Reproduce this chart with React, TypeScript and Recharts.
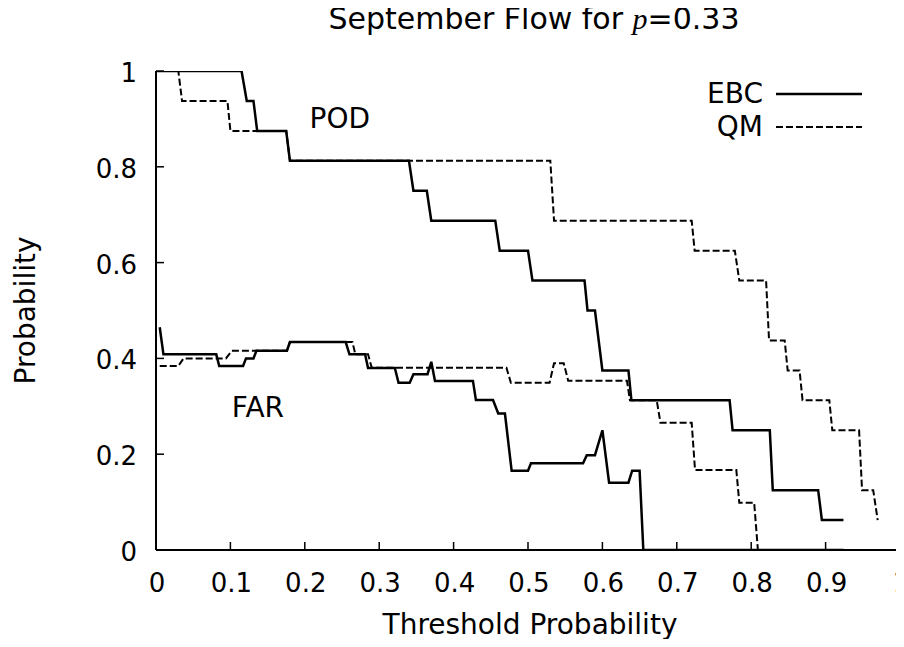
import React from 'react';
import { LineChart, Line, XAxis, YAxis, ReferenceDot } from 'recharts';

/**
 * September Flow chart
 * POD / FAR step curves for EBC (solid) and QM (dashed) against threshold probability
 */

const FONT = '"DejaVu Sans", Verdana, sans-serif';
const TICK_FONT = 26;
const LABEL_FONT = 28;

const xTicks = [0, 0.1, 0.2, 0.3, 0.4, 0.5, 0.6, 0.7, 0.8, 0.9, 1];
const yTicks = [0, 0.2, 0.4, 0.6, 0.8, 1];

// [threshold, probability] vertices
const ebcPod: [number, number][] = [
  [0, 1], [0.115, 1], [0.122, 0.9375], [0.131, 0.9375], [0.136, 0.875], [0.175, 0.875],
  [0.18, 0.8125], [0.34, 0.8125], [0.346, 0.75], [0.364, 0.75], [0.37, 0.6875],
  [0.456, 0.6875], [0.462, 0.625], [0.5, 0.625], [0.506, 0.5625], [0.576, 0.5625],
  [0.58, 0.5], [0.59, 0.5], [0.6, 0.375], [0.635, 0.375], [0.639, 0.3125],
  [0.771, 0.3125], [0.775, 0.25], [0.825, 0.25], [0.829, 0.125], [0.89, 0.125],
  [0.895, 0.0625], [0.924, 0.0625],
];

const qmPod: [number, number][] = [
  [0, 1], [0.03, 1], [0.035, 0.9375], [0.096, 0.9375], [0.1, 0.875], [0.175, 0.875],
  [0.18, 0.8125], [0.53, 0.8125], [0.535, 0.6875], [0.72, 0.6875], [0.724, 0.625],
  [0.778, 0.625], [0.784, 0.5625], [0.82, 0.5625], [0.824, 0.4375], [0.845, 0.4375],
  [0.849, 0.375], [0.865, 0.375], [0.869, 0.3125], [0.905, 0.3125], [0.909, 0.25],
  [0.945, 0.25], [0.949, 0.125], [0.964, 0.125], [0.97, 0.0625],
];

const ebcFar: [number, number][] = [
  [0.005, 0.465], [0.01, 0.4085], [0.081, 0.4085], [0.085, 0.384], [0.117, 0.384],
  [0.121, 0.4], [0.131, 0.4], [0.135, 0.416], [0.176, 0.416], [0.18, 0.434],
  [0.255, 0.434], [0.26, 0.4085], [0.281, 0.4085], [0.285, 0.38], [0.321, 0.38],
  [0.326, 0.349], [0.341, 0.349], [0.346, 0.367], [0.365, 0.367], [0.37, 0.393],
  [0.375, 0.353], [0.426, 0.353], [0.43, 0.313], [0.453, 0.313], [0.46, 0.285],
  [0.469, 0.285], [0.478, 0.1656], [0.5, 0.1656], [0.504, 0.181], [0.574, 0.181],
  [0.579, 0.198], [0.59, 0.198], [0.6, 0.25], [0.609, 0.1405], [0.635, 0.1405],
  [0.64, 0.1656], [0.65, 0.1656], [0.655, 0], [0.924, 0],
];

const qmFar: [number, number][] = [
  [0.005, 0.384], [0.03, 0.384], [0.037, 0.4], [0.094, 0.4], [0.102, 0.416],
  [0.176, 0.416], [0.18, 0.434], [0.264, 0.434], [0.268, 0.4085], [0.285, 0.4085],
  [0.29, 0.3806], [0.471, 0.3806], [0.477, 0.349], [0.529, 0.349], [0.535, 0.39],
  [0.548, 0.39], [0.554, 0.3535], [0.633, 0.3535], [0.637, 0.3125], [0.673, 0.3125],
  [0.678, 0.2658], [0.72, 0.2658], [0.7245, 0.167], [0.78, 0.167], [0.784, 0.0988],
  [0.804, 0.0988], [0.809, 0], [0.966, 0],
];

const legendItems = [
  { name: 'EBC', dash: undefined as string | undefined },
  { name: 'QM', dash: '7 3' },
];

const toRows = (pts: [number, number][]) => pts.map(([x, y]) => ({ x, y }));

const TICK_LEN = 8;

// tick renderers: inward tick marks, labels only on bottom/left
const BottomTick = ({ x, y, payload }: any) => (
  <g>
    <line x1={x} x2={x} y1={y} y2={y - TICK_LEN} stroke="#000" strokeWidth={1.5} />
    <text x={x + 1} y={y + 42} textAnchor="middle" fontSize={TICK_FONT} fontFamily={FONT} fill="#000">
      {String(payload.value)}
    </text>
  </g>
);
const TopTick = ({ x, y }: any) => (
  <line x1={x} x2={x} y1={y} y2={y + TICK_LEN} stroke="#000" strokeWidth={1.5} />
);
const LeftTick = ({ x, y, payload }: any) => (
  <g>
    <line x1={x} x2={x + TICK_LEN} y1={y} y2={y} stroke="#000" strokeWidth={1.5} />
    <text x={x - 19} y={y + 11} textAnchor="end" fontSize={TICK_FONT} fontFamily={FONT} fill="#000">
      {String(payload.value)}
    </text>
  </g>
);
const RightTick = ({ x, y }: any) => (
  <line x1={x} x2={x - TICK_LEN} y1={y} y2={y} stroke="#000" strokeWidth={1.5} />
);

const Legend = () => (
  <div
    style={{
      position: 'absolute',
      top: 77,
      right: 42,
      fontFamily: FONT,
      fontSize: LABEL_FONT,
      color: '#000',
      lineHeight: '33px',
    }}
  >
    {legendItems.map((item) => (
      <div key={item.name} style={{ display: 'flex', alignItems: 'center', justifyContent: 'flex-end', height: 33 }}>
        <span>{item.name}</span>
        <svg width={99} height={10}>
          <line
            x1={13}
            x2={99}
            y1={5}
            y2={5}
            stroke="#000"
            strokeWidth={item.dash ? 2 : 2.5}
            strokeDasharray={item.dash}
          />
        </svg>
      </div>
    ))}
  </div>
);

export default function App() {
  return (
    <div style={{ position: 'relative', width: 904, height: 647, margin: -8, background: '#fff', overflow: 'hidden' }}>
      <div
        style={{
          position: 'absolute',
          top: 4,
          left: 162,
          width: 744,
          textAlign: 'center',
          fontFamily: FONT,
          fontSize: 30,
          lineHeight: '30px',
          color: '#000',
          whiteSpace: 'nowrap',
        }}
      >
        September Flow for{' '}
        <span style={{ fontFamily: '"Liberation Serif", "Times New Roman", serif', fontStyle: 'italic' }}>p</span>
        =0.33
      </div>
      <LineChart
        width={904}
        height={647}
        margin={{ top: 71, right: 4, bottom: 0, left: 0 }}
        style={{ position: 'absolute', top: 0, left: 0, overflow: 'visible' }}
      >
        <XAxis
          dataKey="x"
          type="number"
          domain={[0, 1]}
          ticks={xTicks}
          interval={0}
          allowDataOverflow
          height={97}
          tickSize={0}
          tickMargin={0}
          tickLine={false}
          tick={<BottomTick />}
          axisLine={{ stroke: '#000', strokeWidth: 2 }}
          label={{
            content: ({ viewBox }: any) => (
              <text
                x={viewBox.x + viewBox.width / 2 + 2}
                y={viewBox.y + 84}
                textAnchor="middle"
                fontSize={LABEL_FONT}
                fontFamily={FONT}
                fill="#000"
              >
                Threshold Probability
              </text>
            ),
          }}
        />
        <XAxis
          xAxisId="top"
          orientation="top"
          dataKey="x"
          type="number"
          domain={[0, 1]}
          ticks={xTicks}
          interval={0}
          allowDataOverflow
          height={0}
          tickSize={0}
          tickMargin={0}
          tickLine={false}
          tick={<TopTick />}
          axisLine={{ stroke: '#000', strokeWidth: 2 }}
        />
        <YAxis
          type="number"
          domain={[0, 1]}
          ticks={yTicks}
          interval={0}
          allowDataOverflow
          width={156}
          tickSize={0}
          tickMargin={0}
          tickLine={false}
          tick={<LeftTick />}
          axisLine={{ stroke: '#000', strokeWidth: 2 }}
          label={{
            content: ({ viewBox }: any) => {
              const cx = 25;
              const cy = viewBox.y + viewBox.height / 2;
              return (
                <text
                  x={cx}
                  y={cy}
                  transform={`rotate(-90, ${cx}, ${cy})`}
                  textAnchor="middle"
                  dominantBaseline="central"
                  fontSize={LABEL_FONT}
                  fontFamily={FONT}
                  fill="#000"
                >
                  Probability
                </text>
              );
            },
          }}
        />
        <YAxis
          yAxisId="right"
          orientation="right"
          type="number"
          domain={[0, 1]}
          ticks={yTicks}
          interval={0}
          allowDataOverflow
          width={0}
          tickSize={0}
          tickMargin={0}
          tickLine={false}
          tick={<RightTick />}
          axisLine={{ stroke: '#000', strokeWidth: 2 }}
        />
        <Line data={toRows(ebcPod)} dataKey="y" type="linear" stroke="#000" strokeWidth={2.5} dot={false} isAnimationActive={false} />
        <Line data={toRows(qmPod)} dataKey="y" type="linear" stroke="#000" strokeWidth={2} strokeDasharray="7 3" dot={false} isAnimationActive={false} />
        <Line data={toRows(ebcFar)} dataKey="y" type="linear" stroke="#000" strokeWidth={2.5} dot={false} isAnimationActive={false} />
        <Line data={toRows(qmFar)} dataKey="y" type="linear" stroke="#000" strokeWidth={2} strokeDasharray="7 3" dot={false} isAnimationActive={false} />
        <ReferenceDot
          x={0.247}
          y={0.902}
          r={0}
          fill="none"
          stroke="none"
          label={{ value: 'POD', position: 'center', fontSize: LABEL_FONT, fontFamily: FONT, fill: '#000' }}
        />
        <ReferenceDot
          x={0.137}
          y={0.2985}
          r={0}
          fill="none"
          stroke="none"
          label={{ value: 'FAR', position: 'center', fontSize: LABEL_FONT, fontFamily: FONT, fill: '#000' }}
        />
      </LineChart>
      <Legend />
    </div>
  );
}
